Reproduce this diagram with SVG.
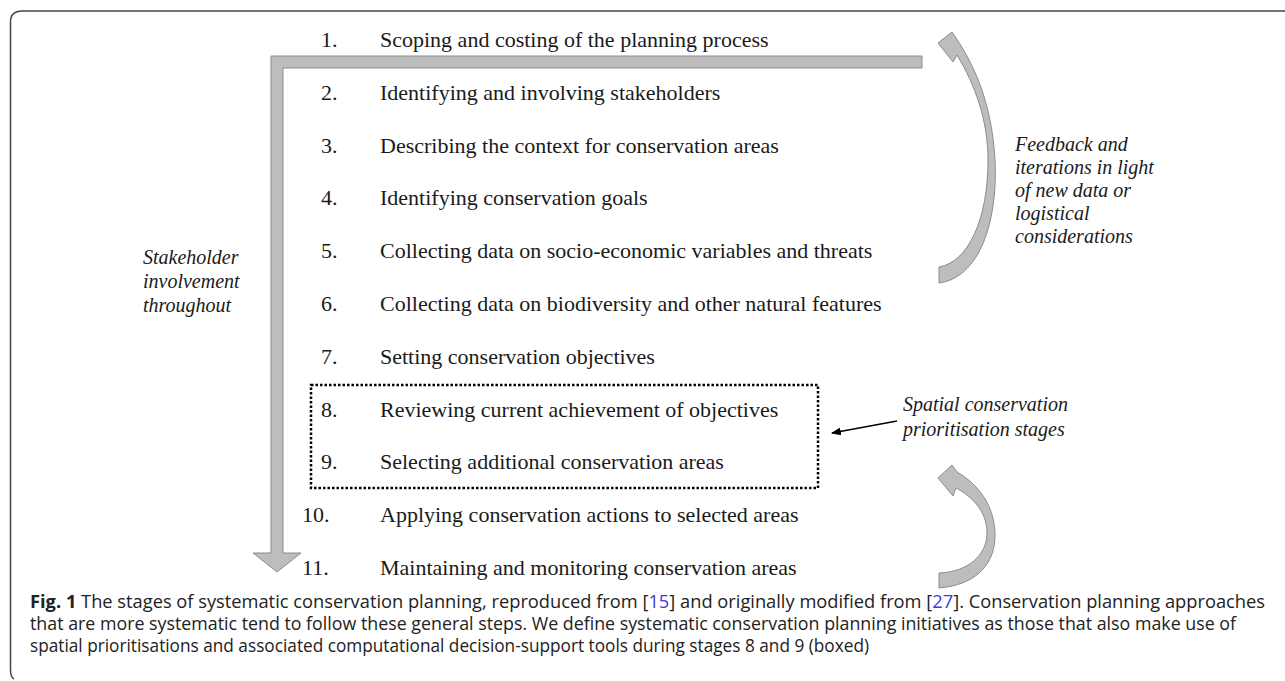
<svg xmlns="http://www.w3.org/2000/svg" width="1285" height="681" viewBox="0 0 1285 681">
<style>
.step{font-family:"Liberation Serif","Times New Roman",serif;font-size:22px;fill:#1a1a1a}
.note{font-family:"Liberation Serif","Times New Roman",serif;font-size:20px;font-style:italic;fill:#1a1a1a}
.cap{font-family:"Open Sans","Noto Sans",sans-serif;font-size:18px;fill:#222}
.link{fill:#3a3ae0}
.garrow{fill:#bdbdbd;stroke:#8c8c8c;stroke-width:1}
</style>
<defs>
<marker id="ah" markerWidth="10" markerHeight="8" refX="9" refY="4" orient="auto" markerUnits="userSpaceOnUse">
<path d="M0 0 L10 4 L0 8 Z" fill="#000"/>
</marker>
</defs>
<rect width="1285" height="681" fill="#fff"/>
<path d="M1285 11 H22 Q10.5 11 10.5 22 V670 Q10.5 677 14 679" fill="none" stroke="#444" stroke-width="1.5"/>

<g id="connectors">
<path id="stakeholder-arrow" class="garrow" d="M271 56 H922 V68 H283 V553 H301 L277 572 L253 553 H271 Z"/>
<path id="feedback-arrow" class="garrow" d="M939 283 C978 278 998 225 995 160 C992 105 975 66 956 38 L952 32 L938 43 L953 62 L957 55 C975 85 988 120 988 160 C988 220 968 262 939 267 Z"/>
<path id="spatial-loop-arrow" class="garrow" d="M939 588 C975 585 996 565 995 533 C994 505 978 484 957 472 L952 465 L938 478 L953 496 L956 488 C973 497 987 512 987 533 C987 555 968 572 939 573 Z"/>
<line id="box-pointer" x1="897" y1="421" x2="832" y2="433" stroke="#000" stroke-width="1.3" marker-end="url(#ah)"/>
<rect id="spatial-box" x="311" y="385" width="507" height="103" fill="none" stroke="#000" stroke-width="2.5" stroke-dasharray="2.5 2"/>
</g>

<g id="step1"><text class="step" x="321" y="47">1.</text><text class="step" x="380" y="47">Scoping and costing of the planning process</text></g>
<g id="step2"><text class="step" x="321" y="100">2.</text><text class="step" x="380" y="100">Identifying and involving stakeholders</text></g>
<g id="step3"><text class="step" x="321" y="153">3.</text><text class="step" x="380" y="153">Describing the context for conservation areas</text></g>
<g id="step4"><text class="step" x="321" y="205">4.</text><text class="step" x="380" y="205">Identifying conservation goals</text></g>
<g id="step5"><text class="step" x="321" y="258">5.</text><text class="step" x="380" y="258">Collecting data on socio-economic variables and threats</text></g>
<g id="step6"><text class="step" x="321" y="311">6.</text><text class="step" x="380" y="311">Collecting data on biodiversity and other natural features</text></g>
<g id="step7"><text class="step" x="321" y="364">7.</text><text class="step" x="380" y="364">Setting conservation objectives</text></g>
<g id="step8"><text class="step" x="321" y="417">8.</text><text class="step" x="380" y="417">Reviewing current achievement of objectives</text></g>
<g id="step9"><text class="step" x="321" y="469">9.</text><text class="step" x="380" y="469">Selecting additional conservation areas</text></g>
<g id="step10"><text class="step" x="302" y="522">10.</text><text class="step" x="380" y="522">Applying conservation actions to selected areas</text></g>
<g id="step11"><text class="step" x="302" y="575">11.</text><text class="step" x="380" y="575">Maintaining and monitoring conservation areas</text></g>

<g id="label-stakeholder"><text class="note" x="143" y="264">Stakeholder</text><text class="note" x="143" y="288">involvement</text><text class="note" x="143" y="312">throughout</text></g>
<g id="label-feedback"><text class="note" x="1015" y="151">Feedback and</text><text class="note" x="1015" y="174">iterations in light</text><text class="note" x="1015" y="197">of new data or</text><text class="note" x="1015" y="220">logistical</text><text class="note" x="1015" y="243">considerations</text></g>
<g id="label-spatial"><text class="note" x="903" y="411">Spatial conservation</text><text class="note" x="903" y="436">prioritisation stages</text></g>

<g id="caption">
<text class="cap" x="30" y="608" textLength="1235" lengthAdjust="spacingAndGlyphs"><tspan font-weight="bold">Fig. 1</tspan>  The stages of systematic conservation planning, reproduced from [<tspan class="link">15</tspan>] and originally modified from [<tspan class="link">27</tspan>]. Conservation planning approaches</text>
<text class="cap" x="30" y="630" textLength="1206" lengthAdjust="spacingAndGlyphs">that are more systematic tend to follow these general steps. We define systematic conservation planning initiatives as those that also make use of</text>
<text class="cap" x="30" y="652" textLength="839" lengthAdjust="spacingAndGlyphs">spatial prioritisations and associated computational decision-support tools during stages 8 and 9 (boxed)</text>
</g>
</svg>
